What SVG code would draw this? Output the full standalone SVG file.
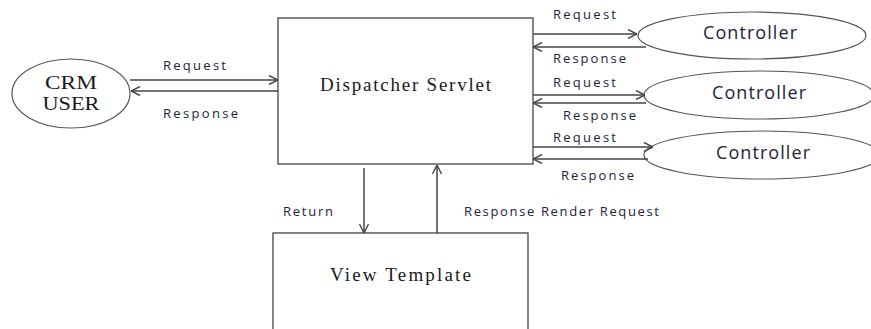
<svg xmlns="http://www.w3.org/2000/svg" width="871" height="329" viewBox="0 0 871 329">
  <style>
    .box { fill: #fff; stroke: #444; stroke-width: 1.3; }
    .oval { fill: #fff; stroke: #555; stroke-width: 1.2; }
    .serif { font-family: "Liberation Serif", "Times New Roman", serif; font-size: 19px; fill: #1a1a1a; }
    .lbl { font-family: "Open Sans", "Liberation Sans", sans-serif; font-size: 13px; fill: #22223a; }
    .ctl { font-family: "Open Sans", "Liberation Sans", sans-serif; font-size: 18px; fill: #22223a; }
    .wire { stroke: #444; stroke-width: 1.5; fill: none; marker-end: url(#head); }
  </style>
  <defs>
    <marker id="head" viewBox="0 0 10 10" refX="10" refY="5" markerWidth="10" markerHeight="10" markerUnits="userSpaceOnUse" orient="auto">
      <path d="M1,0.5 L10,5 L1,9.5" fill="none" stroke="#444" stroke-width="1.4"/>
    </marker>
  </defs>
  <rect width="871" height="329" fill="#fff"/>

  <g id="crm-user">
    <ellipse class="oval" cx="71" cy="93.5" rx="59" ry="34.5"/>
    <text class="serif" x="71" y="89" text-anchor="middle" textLength="52" lengthAdjust="spacingAndGlyphs">CRM</text>
    <text class="serif" x="71" y="110" text-anchor="middle" textLength="57" lengthAdjust="spacingAndGlyphs">USER</text>
  </g>

  <g id="dispatcher-servlet">
    <rect class="box" x="278" y="18" width="255" height="146"/>
    <text class="serif" x="320" y="91" textLength="171" lengthAdjust="spacing">Dispatcher Servlet</text>
  </g>

  <g id="view-template">
    <rect class="box" x="273" y="233" width="255" height="110"/>
    <text class="serif" x="330" y="281" textLength="141" lengthAdjust="spacing">View Template</text>
  </g>

  <g id="controller-1">
    <ellipse class="oval" cx="752" cy="35.5" rx="114" ry="23.5"/>
    <text class="ctl" x="703" y="39" textLength="94" lengthAdjust="spacing">Controller</text>
  </g>
  <g id="controller-2">
    <ellipse class="oval" cx="759" cy="95" rx="115" ry="24"/>
    <text class="ctl" x="712" y="99" textLength="94" lengthAdjust="spacing">Controller</text>
  </g>
  <g id="controller-3">
    <ellipse class="oval" cx="762" cy="155" rx="118" ry="24"/>
    <text class="ctl" x="716" y="159" textLength="94" lengthAdjust="spacing">Controller</text>
  </g>

  <g id="connectors">
    <line class="wire" x1="130" y1="80" x2="278" y2="80"/>
    <line class="wire" x1="278" y1="91" x2="131" y2="91"/>

    <line class="wire" x1="533" y1="34" x2="637" y2="34"/>
    <line class="wire" x1="646" y1="47" x2="533" y2="47"/>
    <line class="wire" x1="533" y1="95" x2="645" y2="95"/>
    <line class="wire" x1="646" y1="103" x2="533" y2="103"/>
    <line class="wire" x1="533" y1="147" x2="653" y2="147"/>
    <line class="wire" x1="648" y1="159" x2="533" y2="159"/>

    <line class="wire" x1="364" y1="168" x2="364" y2="233"/>
    <line class="wire" x1="437" y1="233" x2="437" y2="165"/>
  </g>

  <g id="labels">
    <text class="lbl" x="163" y="70" textLength="63" lengthAdjust="spacing">Request</text>
    <text class="lbl" x="163" y="118" textLength="75" lengthAdjust="spacing">Response</text>

    <text class="lbl" x="553" y="19" textLength="63" lengthAdjust="spacing">Request</text>
    <text class="lbl" x="553" y="63" textLength="73" lengthAdjust="spacing">Response</text>
    <text class="lbl" x="553" y="87" textLength="63" lengthAdjust="spacing">Request</text>
    <text class="lbl" x="563" y="120" textLength="73" lengthAdjust="spacing">Response</text>
    <text class="lbl" x="553" y="142" textLength="63" lengthAdjust="spacing">Request</text>
    <text class="lbl" x="561" y="180" textLength="73" lengthAdjust="spacing">Response</text>

    <text class="lbl" x="283" y="216" textLength="50" lengthAdjust="spacing">Return</text>
    <text class="lbl" x="464" y="216" textLength="195" lengthAdjust="spacing">Response Render Request</text>
  </g>
</svg>
